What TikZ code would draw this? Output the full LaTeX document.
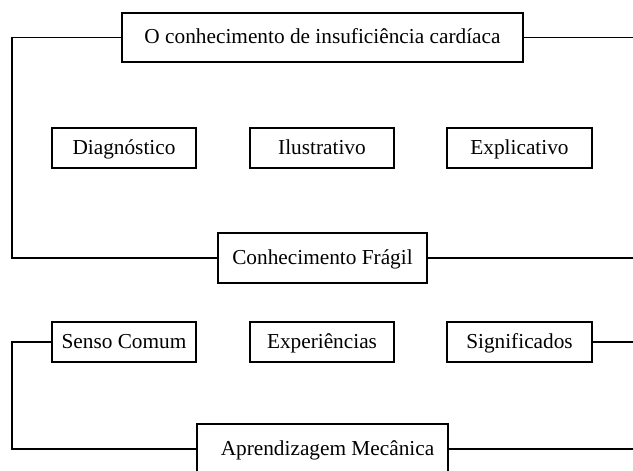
\documentclass[tikz,border=0pt]{standalone}
\usepackage{fontspec}
\setmainfont{Liberation Serif}

\tikzset{
  caixa/.style={draw, line width=1.6pt, inner sep=0pt, minimum height=40pt,
    text height=16pt, text depth=4pt,
    font=\fontsize{21.3}{25}\selectfont},
  ligacao/.style={line width=1.6pt}
}

\begin{document}
\begin{tikzpicture}[x=1pt,y=-1pt]
        \useasboundingbox (0,0) rectangle (633,471);
        \clip (0,0) rectangle (633,471);
        % primeiro bloco
        \node[caixa, minimum width=401pt, minimum height=49pt] (conhec) at (322.5,37.5) {O conhecimento de insuficiência cardíaca};
        \node[caixa, minimum width=144pt] (diag) at (124,148) {Diagnóstico};
        \node[caixa, minimum width=144pt] (ilust) at (322,148) {Ilustrativo};
        \node[caixa, minimum width=145pt] (expl) at (519.5,148) {Explicativo};
        \node[caixa, minimum width=209pt, minimum height=50pt] (fragil) at (322.5,258) {Conhecimento Frágil};
        % segundo bloco
        \node[caixa, minimum width=144pt] (senso) at (124,342) {Senso Comum};
        \node[caixa, minimum width=144pt] (exper) at (322,342) {Experiências};
        \node[caixa, minimum width=145pt] (signif) at (519.5,342) {Significados};
        \node[caixa, minimum width=251pt, minimum height=50pt] (mecan) at (322.5,449) {\hspace*{10pt}Aprendizagem Mecânica};
        \coordinate (esqA) at (12,37.5);
        \coordinate (dirA) at (633,37.5);
        \coordinate (dirB) at (633,258);
        \coordinate (esqC) at (12,342);
        \coordinate (dirC) at (633,342);
        \coordinate (dirD) at (633,449);
        \draw[ligacao] (conhec.west) -- (esqA) |- (fragil.west);
        \draw[ligacao] (conhec.east) -- (dirA);
        \draw[ligacao] (fragil.east) -- (dirB);
        \draw[ligacao] (senso.west) -- (esqC) |- (mecan.west);
        \draw[ligacao] (signif.east) -- (dirC);
        \draw[ligacao] (mecan.east) -- (dirD);
\end{tikzpicture}
\end{document}
